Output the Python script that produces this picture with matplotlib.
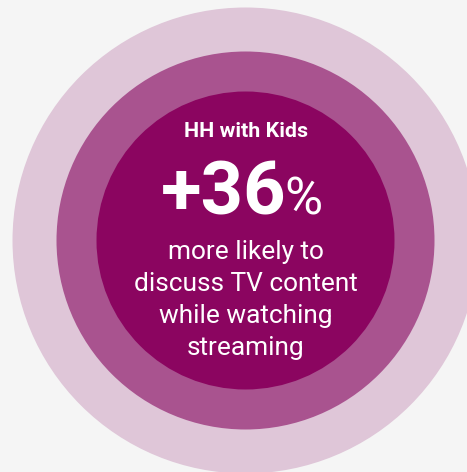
import matplotlib.pyplot as plt
from matplotlib.patches import Circle

# rings, outermost first: radius in px and fill colour
ring_radii = [233, 189, 149]
ring_colors = ['#dfc6d8', '#a9538f', '#8b0560']
center = (245.5, 240.5)

title = 'HH with Kids'
value = '+36'
unit = '%'
caption = ['more likely to', 'discuss TV content', 'while watching', 'streaming']

W, H = 467, 472
fig = plt.figure(figsize=(W / 100, H / 100), dpi=100, facecolor='#f5f5f5')
ax = fig.add_axes([0, 0, 1, 1])
ax.set_xlim(0, W)
ax.set_ylim(H, 0)
ax.set_aspect('equal')
ax.axis('off')

for r, c in zip(ring_radii, ring_colors):
    ax.add_patch(Circle(center, r, facecolor=c, edgecolor='none'))

font = ['Roboto', 'DejaVu Sans']
cx = center[0]

ax.text(cx, 137.3, title, ha='center', va='baseline', color='white',
        fontsize=15.4, fontweight='bold', family=font)

# big number, then a lighter percent sign right after it
t_val = ax.text(161, 214.5, value, ha='left', va='baseline', color='white',
                fontsize=53.5, fontweight='bold', family=font)
fig.canvas.draw()
w_v = t_val.get_window_extent(fig.canvas.get_renderer()).width
ax.text(161 + w_v - 2, 214.5, unit, ha='left', va='baseline', color='white',
        fontsize=37.5, fontweight='normal', family=font)

for i, line in enumerate(caption):
    ax.text(cx, 259.3 + i * 32, line, ha='center', va='baseline', color='white',
            fontsize=18.9, family=font)

fig.savefig('out.png', dpi=100, facecolor=fig.get_facecolor())
